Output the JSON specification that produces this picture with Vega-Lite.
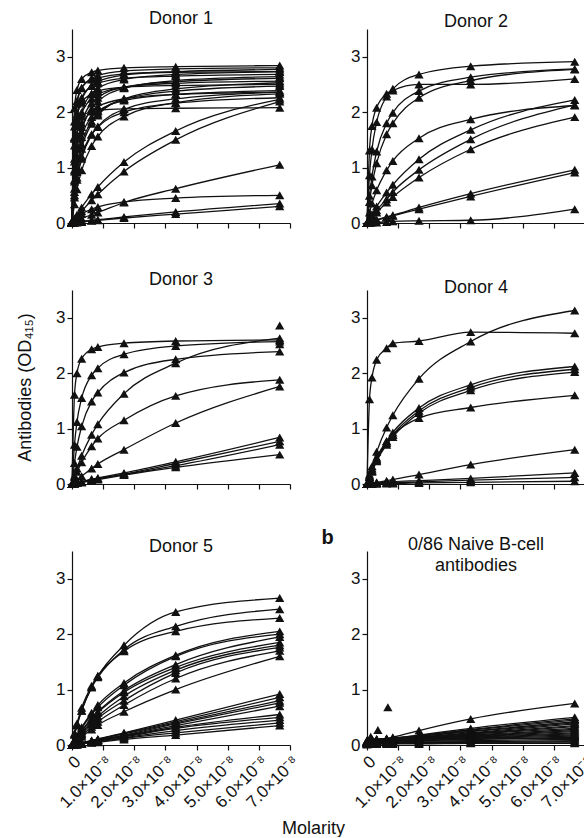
{"$schema":"https://vega.github.io/schema/vega-lite/v6.json",
"padding":{"left":16,"top":10,"right":0,"bottom":0},
"background":"white",
"data":{"values":[
{"g":1,"s":1,"x":0,"y":0.02},{"g":1,"s":1,"x":0.08,"y":2.07},{"g":1,"s":1,"x":0.16,"y":2.40},{"g":1,"s":1,"x":0.31,"y":2.60},{"g":1,"s":1,"x":0.63,"y":2.72},{"g":1,"s":1,"x":0.83,"y":2.75},{"g":1,"s":1,"x":1.67,"y":2.80},{"g":1,"s":1,"x":3.33,"y":2.82},{"g":1,"s":1,"x":6.67,"y":2.84},
{"g":1,"s":2,"x":0,"y":0.01},{"g":1,"s":2,"x":0.08,"y":1.74},{"g":1,"s":2,"x":0.16,"y":2.15},{"g":1,"s":2,"x":0.31,"y":2.43},{"g":1,"s":2,"x":0.63,"y":2.61},{"g":1,"s":2,"x":0.83,"y":2.66},{"g":1,"s":2,"x":1.67,"y":2.74},{"g":1,"s":2,"x":3.33,"y":2.78},{"g":1,"s":2,"x":6.67,"y":2.80},
{"g":1,"s":3,"x":0,"y":0.02},{"g":1,"s":3,"x":0.08,"y":1.40},{"g":1,"s":3,"x":0.16,"y":1.87},{"g":1,"s":3,"x":0.31,"y":2.22},{"g":1,"s":3,"x":0.63,"y":2.48},{"g":1,"s":3,"x":0.83,"y":2.55},{"g":1,"s":3,"x":1.67,"y":2.67},{"g":1,"s":3,"x":3.33,"y":2.73},{"g":1,"s":3,"x":6.67,"y":2.77},
{"g":1,"s":4,"x":0,"y":0.01},{"g":1,"s":4,"x":0.08,"y":1.11},{"g":1,"s":4,"x":0.16,"y":1.59},{"g":1,"s":4,"x":0.31,"y":2.00},{"g":1,"s":4,"x":0.63,"y":2.33},{"g":1,"s":4,"x":0.83,"y":2.43},{"g":1,"s":4,"x":1.67,"y":2.59},{"g":1,"s":4,"x":3.33,"y":2.68},{"g":1,"s":4,"x":6.67,"y":2.73},
{"g":1,"s":5,"x":0,"y":0.03},{"g":1,"s":5,"x":0.08,"y":1.83},{"g":1,"s":5,"x":0.16,"y":2.20},{"g":1,"s":5,"x":0.31,"y":2.44},{"g":1,"s":5,"x":0.63,"y":2.59},{"g":1,"s":5,"x":0.83,"y":2.62},{"g":1,"s":5,"x":1.67,"y":2.69},{"g":1,"s":5,"x":3.33,"y":2.72},{"g":1,"s":5,"x":6.67,"y":2.73},
{"g":1,"s":6,"x":0,"y":0.02},{"g":1,"s":6,"x":0.08,"y":0.78},{"g":1,"s":6,"x":0.16,"y":1.21},{"g":1,"s":6,"x":0.31,"y":1.65},{"g":1,"s":6,"x":0.63,"y":2.06},{"g":1,"s":6,"x":0.83,"y":2.19},{"g":1,"s":6,"x":1.67,"y":2.43},{"g":1,"s":6,"x":3.33,"y":2.57},{"g":1,"s":6,"x":6.67,"y":2.64},
{"g":1,"s":7,"x":0,"y":0.01},{"g":1,"s":7,"x":0.08,"y":1.54},{"g":1,"s":7,"x":0.16,"y":1.96},{"g":1,"s":7,"x":0.31,"y":2.26},{"g":1,"s":7,"x":0.63,"y":2.47},{"g":1,"s":7,"x":0.83,"y":2.52},{"g":1,"s":7,"x":1.67,"y":2.61},{"g":1,"s":7,"x":3.33,"y":2.65},{"g":1,"s":7,"x":6.67,"y":2.68},
{"g":1,"s":8,"x":0,"y":0.02},{"g":1,"s":8,"x":0.08,"y":0.93},{"g":1,"s":8,"x":0.16,"y":1.38},{"g":1,"s":8,"x":0.31,"y":1.80},{"g":1,"s":8,"x":0.63,"y":2.16},{"g":1,"s":8,"x":0.83,"y":2.26},{"g":1,"s":8,"x":1.67,"y":2.45},{"g":1,"s":8,"x":3.33,"y":2.55},{"g":1,"s":8,"x":6.67,"y":2.61},
{"g":1,"s":9,"x":0,"y":0.01},{"g":1,"s":9,"x":0.08,"y":0.56},{"g":1,"s":9,"x":0.16,"y":0.92},{"g":1,"s":9,"x":0.31,"y":1.34},{"g":1,"s":9,"x":0.63,"y":1.79},{"g":1,"s":9,"x":0.83,"y":1.94},{"g":1,"s":9,"x":1.67,"y":2.24},{"g":1,"s":9,"x":3.33,"y":2.42},{"g":1,"s":9,"x":6.67,"y":2.53},
{"g":1,"s":10,"x":0,"y":0.02},{"g":1,"s":10,"x":0.08,"y":1.16},{"g":1,"s":10,"x":0.16,"y":1.60},{"g":1,"s":10,"x":0.31,"y":1.97},{"g":1,"s":10,"x":0.63,"y":2.24},{"g":1,"s":10,"x":0.83,"y":2.32},{"g":1,"s":10,"x":1.67,"y":2.45},{"g":1,"s":10,"x":3.33,"y":2.52},{"g":1,"s":10,"x":6.67,"y":2.56},
{"g":1,"s":11,"x":0,"y":0.01},{"g":1,"s":11,"x":0.08,"y":0.62},{"g":1,"s":11,"x":0.16,"y":1.00},{"g":1,"s":11,"x":0.31,"y":1.42},{"g":1,"s":11,"x":0.63,"y":1.83},{"g":1,"s":11,"x":0.83,"y":1.97},{"g":1,"s":11,"x":1.67,"y":2.23},{"g":1,"s":11,"x":3.33,"y":2.38},{"g":1,"s":11,"x":6.67,"y":2.47},
{"g":1,"s":12,"x":0,"y":0.03},{"g":1,"s":12,"x":0.08,"y":1.55},{"g":1,"s":12,"x":0.16,"y":1.92},{"g":1,"s":12,"x":0.31,"y":2.17},{"g":1,"s":12,"x":0.63,"y":2.33},{"g":1,"s":12,"x":0.83,"y":2.38},{"g":1,"s":12,"x":1.67,"y":2.45},{"g":1,"s":12,"x":3.33,"y":2.48},{"g":1,"s":12,"x":6.67,"y":2.50},
{"g":1,"s":13,"x":0,"y":0.01},{"g":1,"s":13,"x":0.08,"y":0.46},{"g":1,"s":13,"x":0.16,"y":0.78},{"g":1,"s":13,"x":0.31,"y":1.16},{"g":1,"s":13,"x":0.63,"y":1.59},{"g":1,"s":13,"x":0.83,"y":1.74},{"g":1,"s":13,"x":1.67,"y":2.05},{"g":1,"s":13,"x":3.33,"y":2.24},{"g":1,"s":13,"x":6.67,"y":2.36},
{"g":1,"s":14,"x":0,"y":0.02},{"g":1,"s":14,"x":0.08,"y":0.75},{"g":1,"s":14,"x":0.16,"y":1.15},{"g":1,"s":14,"x":0.31,"y":1.55},{"g":1,"s":14,"x":0.63,"y":1.91},{"g":1,"s":14,"x":0.83,"y":2.01},{"g":1,"s":14,"x":1.67,"y":2.21},{"g":1,"s":14,"x":3.33,"y":2.32},{"g":1,"s":14,"x":6.67,"y":2.39},
{"g":1,"s":15,"x":0,"y":0.01},{"g":1,"s":15,"x":0.08,"y":0.96},{"g":1,"s":15,"x":0.16,"y":1.37},{"g":1,"s":15,"x":0.31,"y":1.73},{"g":1,"s":15,"x":0.63,"y":2.02},{"g":1,"s":15,"x":0.83,"y":2.10},{"g":1,"s":15,"x":1.67,"y":2.24},{"g":1,"s":15,"x":3.33,"y":2.32},{"g":1,"s":15,"x":6.67,"y":2.36},
{"g":1,"s":16,"x":0,"y":0.02},{"g":1,"s":16,"x":0.08,"y":0.50},{"g":1,"s":16,"x":0.16,"y":0.82},{"g":1,"s":16,"x":0.31,"y":1.20},{"g":1,"s":16,"x":0.63,"y":1.60},{"g":1,"s":16,"x":0.83,"y":1.73},{"g":1,"s":16,"x":1.67,"y":2.00},{"g":1,"s":16,"x":3.33,"y":2.16},{"g":1,"s":16,"x":6.67,"y":2.26},
{"g":1,"s":17,"x":0,"y":0.01},{"g":1,"s":17,"x":0.08,"y":0.34},{"g":1,"s":17,"x":0.16,"y":0.61},{"g":1,"s":17,"x":0.31,"y":0.95},{"g":1,"s":17,"x":0.63,"y":1.39},{"g":1,"s":17,"x":0.83,"y":1.56},{"g":1,"s":17,"x":1.67,"y":1.92},{"g":1,"s":17,"x":3.33,"y":2.17},{"g":1,"s":17,"x":6.67,"y":2.33},
{"g":1,"s":18,"x":0,"y":0.02},{"g":1,"s":18,"x":0.08,"y":1.52},{"g":1,"s":18,"x":0.16,"y":1.77},{"g":1,"s":18,"x":0.31,"y":1.92},{"g":1,"s":18,"x":0.63,"y":2.01},{"g":1,"s":18,"x":0.83,"y":2.03},{"g":1,"s":18,"x":1.67,"y":2.06},{"g":1,"s":18,"x":3.33,"y":2.07},{"g":1,"s":18,"x":6.67,"y":2.08},
{"g":1,"s":19,"x":0,"y":0.01},{"g":1,"s":19,"x":0.08,"y":0.08},{"g":1,"s":19,"x":0.16,"y":0.15},{"g":1,"s":19,"x":0.31,"y":0.28},{"g":1,"s":19,"x":0.63,"y":0.52},{"g":1,"s":19,"x":0.83,"y":0.65},{"g":1,"s":19,"x":1.67,"y":1.10},{"g":1,"s":19,"x":3.33,"y":1.66},{"g":1,"s":19,"x":6.67,"y":2.23},
{"g":1,"s":20,"x":0,"y":0.01},{"g":1,"s":20,"x":0.08,"y":0.06},{"g":1,"s":20,"x":0.16,"y":0.11},{"g":1,"s":20,"x":0.31,"y":0.21},{"g":1,"s":20,"x":0.63,"y":0.41},{"g":1,"s":20,"x":0.83,"y":0.52},{"g":1,"s":20,"x":1.67,"y":0.93},{"g":1,"s":20,"x":3.33,"y":1.50},{"g":1,"s":20,"x":6.67,"y":2.19},
{"g":1,"s":21,"x":0,"y":0.01},{"g":1,"s":21,"x":0.08,"y":0.02},{"g":1,"s":21,"x":0.16,"y":0.04},{"g":1,"s":21,"x":0.31,"y":0.08},{"g":1,"s":21,"x":0.63,"y":0.15},{"g":1,"s":21,"x":0.83,"y":0.19},{"g":1,"s":21,"x":1.67,"y":0.37},{"g":1,"s":21,"x":3.33,"y":0.62},{"g":1,"s":21,"x":6.67,"y":1.05},
{"g":1,"s":22,"x":0,"y":0.02},{"g":1,"s":22,"x":0.08,"y":0.05},{"g":1,"s":22,"x":0.16,"y":0.09},{"g":1,"s":22,"x":0.31,"y":0.16},{"g":1,"s":22,"x":0.63,"y":0.25},{"g":1,"s":22,"x":0.83,"y":0.29},{"g":1,"s":22,"x":1.67,"y":0.38},{"g":1,"s":22,"x":3.33,"y":0.45},{"g":1,"s":22,"x":6.67,"y":0.50},
{"g":1,"s":23,"x":0,"y":0.01},{"g":1,"s":23,"x":0.08,"y":0.01},{"g":1,"s":23,"x":0.16,"y":0.02},{"g":1,"s":23,"x":0.31,"y":0.03},{"g":1,"s":23,"x":0.63,"y":0.05},{"g":1,"s":23,"x":0.83,"y":0.06},{"g":1,"s":23,"x":1.67,"y":0.11},{"g":1,"s":23,"x":3.33,"y":0.20},{"g":1,"s":23,"x":6.67,"y":0.35},
{"g":1,"s":24,"x":0,"y":0},{"g":1,"s":24,"x":0.08,"y":0.01},{"g":1,"s":24,"x":0.16,"y":0.01},{"g":1,"s":24,"x":0.31,"y":0.02},{"g":1,"s":24,"x":0.63,"y":0.04},{"g":1,"s":24,"x":0.83,"y":0.05},{"g":1,"s":24,"x":1.67,"y":0.09},{"g":1,"s":24,"x":3.33,"y":0.16},{"g":1,"s":24,"x":6.67,"y":0.30},

{"g":2,"s":1,"x":0,"y":0},{"g":2,"s":1,"x":0.08,"y":0.86},{"g":2,"s":1,"x":0.16,"y":1.33},{"g":2,"s":1,"x":0.31,"y":1.82},{"g":2,"s":1,"x":0.63,"y":2.28},{"g":2,"s":1,"x":0.83,"y":2.42},{"g":2,"s":1,"x":1.67,"y":2.68},{"g":2,"s":1,"x":3.33,"y":2.83},{"g":2,"s":1,"x":6.67,"y":2.91},
{"g":2,"s":2,"x":0,"y":0},{"g":2,"s":2,"x":0.08,"y":0.49},{"g":2,"s":2,"x":0.16,"y":0.84},{"g":2,"s":2,"x":0.31,"y":1.29},{"g":2,"s":2,"x":0.63,"y":1.80},{"g":2,"s":2,"x":0.83,"y":1.99},{"g":2,"s":2,"x":1.67,"y":2.38},{"g":2,"s":2,"x":3.33,"y":2.63},{"g":2,"s":2,"x":6.67,"y":2.78},
{"g":2,"s":3,"x":0,"y":0},{"g":2,"s":3,"x":0.08,"y":0.38},{"g":2,"s":3,"x":0.16,"y":0.68},{"g":2,"s":3,"x":0.31,"y":1.08},{"g":2,"s":3,"x":0.63,"y":1.60},{"g":2,"s":3,"x":0.83,"y":1.80},{"g":2,"s":3,"x":1.67,"y":2.26},{"g":2,"s":3,"x":3.33,"y":2.57},{"g":2,"s":3,"x":6.67,"y":2.77},
{"g":2,"s":4,"x":0,"y":0},{"g":2,"s":4,"x":0.08,"y":1.31},{"g":2,"s":4,"x":0.16,"y":1.75},{"g":2,"s":4,"x":0.31,"y":2.08},{"g":2,"s":4,"x":0.63,"y":2.33},{"g":2,"s":4,"x":0.83,"y":2.39},{"g":2,"s":4,"x":1.67,"y":2.50},{"g":2,"s":4,"x":3.33,"y":2.50},{"g":2,"s":4,"x":6.67,"y":2.60},
{"g":2,"s":5,"x":0,"y":0},{"g":2,"s":5,"x":0.08,"y":0.19},{"g":2,"s":5,"x":0.16,"y":0.35},{"g":2,"s":5,"x":0.31,"y":0.59},{"g":2,"s":5,"x":0.63,"y":0.95},{"g":2,"s":5,"x":0.83,"y":1.12},{"g":2,"s":5,"x":1.67,"y":1.53},{"g":2,"s":5,"x":3.33,"y":1.87},{"g":2,"s":5,"x":6.67,"y":2.12},
{"g":2,"s":6,"x":0,"y":0},{"g":2,"s":6,"x":0.08,"y":0.08},{"g":2,"s":6,"x":0.16,"y":0.16},{"g":2,"s":6,"x":0.31,"y":0.30},{"g":2,"s":6,"x":0.63,"y":0.55},{"g":2,"s":6,"x":0.83,"y":0.69},{"g":2,"s":6,"x":1.67,"y":1.15},{"g":2,"s":6,"x":3.33,"y":1.68},{"g":2,"s":6,"x":6.67,"y":2.22},
{"g":2,"s":7,"x":0,"y":0},{"g":2,"s":7,"x":0.08,"y":0.06},{"g":2,"s":7,"x":0.16,"y":0.12},{"g":2,"s":7,"x":0.31,"y":0.23},{"g":2,"s":7,"x":0.63,"y":0.43},{"g":2,"s":7,"x":0.83,"y":0.56},{"g":2,"s":7,"x":1.67,"y":0.96},{"g":2,"s":7,"x":3.33,"y":1.51},{"g":2,"s":7,"x":6.67,"y":2.13},
{"g":2,"s":8,"x":0,"y":0},{"g":2,"s":8,"x":0.08,"y":0.05},{"g":2,"s":8,"x":0.16,"y":0.10},{"g":2,"s":8,"x":0.31,"y":0.19},{"g":2,"s":8,"x":0.63,"y":0.37},{"g":2,"s":8,"x":0.83,"y":0.47},{"g":2,"s":8,"x":1.67,"y":0.82},{"g":2,"s":8,"x":3.33,"y":1.33},{"g":2,"s":8,"x":6.67,"y":1.91},
{"g":2,"s":9,"x":0,"y":0},{"g":2,"s":9,"x":0.08,"y":0.01},{"g":2,"s":9,"x":0.16,"y":0.03},{"g":2,"s":9,"x":0.31,"y":0.06},{"g":2,"s":9,"x":0.63,"y":0.11},{"g":2,"s":9,"x":0.83,"y":0.14},{"g":2,"s":9,"x":1.67,"y":0.28},{"g":2,"s":9,"x":3.33,"y":0.53},{"g":2,"s":9,"x":6.67,"y":0.96},
{"g":2,"s":10,"x":0,"y":0},{"g":2,"s":10,"x":0.08,"y":0.01},{"g":2,"s":10,"x":0.16,"y":0.03},{"g":2,"s":10,"x":0.31,"y":0.05},{"g":2,"s":10,"x":0.63,"y":0.10},{"g":2,"s":10,"x":0.83,"y":0.13},{"g":2,"s":10,"x":1.67,"y":0.25},{"g":2,"s":10,"x":3.33,"y":0.48},{"g":2,"s":10,"x":6.67,"y":0.91},
{"g":2,"s":11,"x":0,"y":0},{"g":2,"s":11,"x":0.08,"y":0},{"g":2,"s":11,"x":0.16,"y":0.01},{"g":2,"s":11,"x":0.31,"y":0.01},{"g":2,"s":11,"x":0.63,"y":0.02},{"g":2,"s":11,"x":0.83,"y":0.03},{"g":2,"s":11,"x":1.67,"y":0.04},{"g":2,"s":11,"x":3.33,"y":0.05},{"g":2,"s":11,"x":6.67,"y":0.25},

{"g":3,"s":1,"x":0,"y":0},{"g":3,"s":1,"x":0.08,"y":1.61},{"g":3,"s":1,"x":0.16,"y":2.00},{"g":3,"s":1,"x":0.31,"y":2.26},{"g":3,"s":1,"x":0.63,"y":2.43},{"g":3,"s":1,"x":0.83,"y":2.47},{"g":3,"s":1,"x":1.67,"y":2.54},{"g":3,"s":1,"x":3.33,"y":2.58},{"g":3,"s":1,"x":6.67,"y":2.60},
{"g":3,"s":2,"x":0,"y":0},{"g":3,"s":2,"x":0.08,"y":0.71},{"g":3,"s":2,"x":0.16,"y":1.12},{"g":3,"s":2,"x":0.31,"y":1.55},{"g":3,"s":2,"x":0.63,"y":1.96},{"g":3,"s":2,"x":0.83,"y":2.09},{"g":3,"s":2,"x":1.67,"y":2.34},{"g":3,"s":2,"x":3.33,"y":2.49},{"g":3,"s":2,"x":6.67,"y":2.57},
{"g":3,"s":3,"x":0,"y":0},{"g":3,"s":3,"x":0.08,"y":0.38},{"g":3,"s":3,"x":0.16,"y":0.67},{"g":3,"s":3,"x":0.31,"y":1.04},{"g":3,"s":3,"x":0.63,"y":1.49},{"g":3,"s":3,"x":0.83,"y":1.65},{"g":3,"s":3,"x":1.67,"y":2.01},{"g":3,"s":3,"x":3.33,"y":2.25},{"g":3,"s":3,"x":6.67,"y":2.39},
{"g":3,"s":4,"x":0,"y":0},{"g":3,"s":4,"x":0.08,"y":0.15},{"g":3,"s":4,"x":0.16,"y":0.28},{"g":3,"s":4,"x":0.31,"y":0.51},{"g":3,"s":4,"x":0.63,"y":0.89},{"g":3,"s":4,"x":0.83,"y":1.08},{"g":3,"s":4,"x":1.67,"y":1.63},{"g":3,"s":4,"x":3.33,"y":2.18},{"g":3,"s":4,"x":6.67,"y":2.63},
{"g":3,"s":5,"x":0,"y":0},{"g":3,"s":5,"x":0.08,"y":0.12},{"g":3,"s":5,"x":0.16,"y":0.22},{"g":3,"s":5,"x":0.31,"y":0.39},{"g":3,"s":5,"x":0.63,"y":0.68},{"g":3,"s":5,"x":0.83,"y":0.82},{"g":3,"s":5,"x":1.67,"y":1.15},{"g":3,"s":5,"x":3.33,"y":1.59},{"g":3,"s":5,"x":6.67,"y":1.88},
{"g":3,"s":6,"x":0,"y":0},{"g":3,"s":6,"x":0.08,"y":0.04},{"g":3,"s":6,"x":0.16,"y":0.07},{"g":3,"s":6,"x":0.31,"y":0.14},{"g":3,"s":6,"x":0.63,"y":0.28},{"g":3,"s":6,"x":0.83,"y":0.36},{"g":3,"s":6,"x":1.67,"y":0.62},{"g":3,"s":6,"x":3.33,"y":1.10},{"g":3,"s":6,"x":6.67,"y":1.76},
{"g":3,"s":7,"x":0,"y":0},{"g":3,"s":7,"x":0.08,"y":0.01},{"g":3,"s":7,"x":0.16,"y":0.02},{"g":3,"s":7,"x":0.31,"y":0.04},{"g":3,"s":7,"x":0.63,"y":0.09},{"g":3,"s":7,"x":0.83,"y":0.11},{"g":3,"s":7,"x":1.67,"y":0.20},{"g":3,"s":7,"x":3.33,"y":0.40},{"g":3,"s":7,"x":6.67,"y":0.84},
{"g":3,"s":8,"x":0,"y":0},{"g":3,"s":8,"x":0.08,"y":0.01},{"g":3,"s":8,"x":0.16,"y":0.02},{"g":3,"s":8,"x":0.31,"y":0.04},{"g":3,"s":8,"x":0.63,"y":0.08},{"g":3,"s":8,"x":0.83,"y":0.10},{"g":3,"s":8,"x":1.67,"y":0.18},{"g":3,"s":8,"x":3.33,"y":0.37},{"g":3,"s":8,"x":6.67,"y":0.77},
{"g":3,"s":9,"x":0,"y":0},{"g":3,"s":9,"x":0.08,"y":0.01},{"g":3,"s":9,"x":0.16,"y":0.02},{"g":3,"s":9,"x":0.31,"y":0.03},{"g":3,"s":9,"x":0.63,"y":0.07},{"g":3,"s":9,"x":0.83,"y":0.09},{"g":3,"s":9,"x":1.67,"y":0.17},{"g":3,"s":9,"x":3.33,"y":0.33},{"g":3,"s":9,"x":6.67,"y":0.71},
{"g":3,"s":10,"x":0,"y":0},{"g":3,"s":10,"x":0.08,"y":0.01},{"g":3,"s":10,"x":0.16,"y":0.02},{"g":3,"s":10,"x":0.31,"y":0.03},{"g":3,"s":10,"x":0.63,"y":0.06},{"g":3,"s":10,"x":0.83,"y":0.08},{"g":3,"s":10,"x":1.67,"y":0.16},{"g":3,"s":10,"x":3.33,"y":0.30},{"g":3,"s":10,"x":6.67,"y":0.53},
{"g":3,"s":0,"x":6.67,"y":2.86},{"g":3,"s":0,"x":6.67,"y":2.52},

{"g":4,"s":1,"x":0,"y":0},{"g":4,"s":1,"x":0.08,"y":1.53},{"g":4,"s":1,"x":0.16,"y":1.92},{"g":4,"s":1,"x":0.31,"y":2.24},{"g":4,"s":1,"x":0.63,"y":2.45},{"g":4,"s":1,"x":0.83,"y":2.54},{"g":4,"s":1,"x":1.67,"y":2.58},{"g":4,"s":1,"x":3.33,"y":2.74},{"g":4,"s":1,"x":6.67,"y":2.72},
{"g":4,"s":2,"x":0,"y":0},{"g":4,"s":2,"x":0.08,"y":0.17},{"g":4,"s":2,"x":0.16,"y":0.32},{"g":4,"s":2,"x":0.31,"y":0.58},{"g":4,"s":2,"x":0.63,"y":1.02},{"g":4,"s":2,"x":0.83,"y":1.24},{"g":4,"s":2,"x":1.67,"y":1.90},{"g":4,"s":2,"x":3.33,"y":2.57},{"g":4,"s":2,"x":6.67,"y":3.13},
{"g":4,"s":3,"x":0,"y":0},{"g":4,"s":3,"x":0.08,"y":0.13},{"g":4,"s":3,"x":0.16,"y":0.25},{"g":4,"s":3,"x":0.31,"y":0.45},{"g":4,"s":3,"x":0.63,"y":0.77},{"g":4,"s":3,"x":0.83,"y":0.93},{"g":4,"s":3,"x":1.67,"y":1.37},{"g":4,"s":3,"x":3.33,"y":1.79},{"g":4,"s":3,"x":6.67,"y":2.12},
{"g":4,"s":4,"x":0,"y":0},{"g":4,"s":4,"x":0.08,"y":0.12},{"g":4,"s":4,"x":0.16,"y":0.24},{"g":4,"s":4,"x":0.31,"y":0.43},{"g":4,"s":4,"x":0.63,"y":0.74},{"g":4,"s":4,"x":0.83,"y":0.89},{"g":4,"s":4,"x":1.67,"y":1.32},{"g":4,"s":4,"x":3.33,"y":1.74},{"g":4,"s":4,"x":6.67,"y":2.07},
{"g":4,"s":5,"x":0,"y":0},{"g":4,"s":5,"x":0.08,"y":0.12},{"g":4,"s":5,"x":0.16,"y":0.22},{"g":4,"s":5,"x":0.31,"y":0.41},{"g":4,"s":5,"x":0.63,"y":0.71},{"g":4,"s":5,"x":0.83,"y":0.85},{"g":4,"s":5,"x":1.67,"y":1.28},{"g":4,"s":5,"x":3.33,"y":1.69},{"g":4,"s":5,"x":6.67,"y":2.02},
{"g":4,"s":6,"x":0,"y":0},{"g":4,"s":6,"x":0.08,"y":0.15},{"g":4,"s":6,"x":0.16,"y":0.28},{"g":4,"s":6,"x":0.31,"y":0.48},{"g":4,"s":6,"x":0.63,"y":0.77},{"g":4,"s":6,"x":0.83,"y":0.89},{"g":4,"s":6,"x":1.67,"y":1.19},{"g":4,"s":6,"x":3.33,"y":1.38},{"g":4,"s":6,"x":6.67,"y":1.60},
{"g":4,"s":7,"x":0,"y":0},{"g":4,"s":7,"x":0.08,"y":0.01},{"g":4,"s":7,"x":0.16,"y":0.02},{"g":4,"s":7,"x":0.31,"y":0.03},{"g":4,"s":7,"x":0.63,"y":0.06},{"g":4,"s":7,"x":0.83,"y":0.08},{"g":4,"s":7,"x":1.67,"y":0.17},{"g":4,"s":7,"x":3.33,"y":0.35},{"g":4,"s":7,"x":6.67,"y":0.62},
{"g":4,"s":8,"x":0,"y":0},{"g":4,"s":8,"x":0.08,"y":0},{"g":4,"s":8,"x":0.16,"y":0.01},{"g":4,"s":8,"x":0.31,"y":0.02},{"g":4,"s":8,"x":0.63,"y":0.03},{"g":4,"s":8,"x":0.83,"y":0.04},{"g":4,"s":8,"x":1.67,"y":0.06},{"g":4,"s":8,"x":3.33,"y":0.10},{"g":4,"s":8,"x":6.67,"y":0.20},
{"g":4,"s":9,"x":0,"y":0},{"g":4,"s":9,"x":0.08,"y":0},{"g":4,"s":9,"x":0.16,"y":0.01},{"g":4,"s":9,"x":0.31,"y":0.01},{"g":4,"s":9,"x":0.63,"y":0.02},{"g":4,"s":9,"x":0.83,"y":0.02},{"g":4,"s":9,"x":1.67,"y":0.04},{"g":4,"s":9,"x":3.33,"y":0.07},{"g":4,"s":9,"x":6.67,"y":0.12},
{"g":4,"s":10,"x":0,"y":0},{"g":4,"s":10,"x":0.08,"y":0},{"g":4,"s":10,"x":0.16,"y":0},{"g":4,"s":10,"x":0.31,"y":0.01},{"g":4,"s":10,"x":0.63,"y":0.01},{"g":4,"s":10,"x":0.83,"y":0.01},{"g":4,"s":10,"x":1.67,"y":0.02},{"g":4,"s":10,"x":3.33,"y":0.03},{"g":4,"s":10,"x":6.67,"y":0.05},

{"g":5,"s":1,"x":0,"y":0},{"g":5,"s":1,"x":0.08,"y":0.19},{"g":5,"s":1,"x":0.16,"y":0.35},{"g":5,"s":1,"x":0.31,"y":0.62},{"g":5,"s":1,"x":0.63,"y":1.04},{"g":5,"s":1,"x":0.83,"y":1.24},{"g":5,"s":1,"x":1.67,"y":1.80},{"g":5,"s":1,"x":3.33,"y":2.40},{"g":5,"s":1,"x":6.67,"y":2.65},
{"g":5,"s":2,"x":0,"y":0},{"g":5,"s":2,"x":0.08,"y":0.19},{"g":5,"s":2,"x":0.16,"y":0.36},{"g":5,"s":2,"x":0.31,"y":0.62},{"g":5,"s":2,"x":0.63,"y":1.04},{"g":5,"s":2,"x":0.83,"y":1.22},{"g":5,"s":2,"x":1.67,"y":1.72},{"g":5,"s":2,"x":3.33,"y":2.14},{"g":5,"s":2,"x":6.67,"y":2.45},
{"g":5,"s":3,"x":0,"y":0},{"g":5,"s":3,"x":0.08,"y":0.21},{"g":5,"s":3,"x":0.16,"y":0.39},{"g":5,"s":3,"x":0.31,"y":0.67},{"g":5,"s":3,"x":0.63,"y":1.07},{"g":5,"s":3,"x":0.83,"y":1.25},{"g":5,"s":3,"x":1.67,"y":1.69},{"g":5,"s":3,"x":3.33,"y":2.05},{"g":5,"s":3,"x":6.67,"y":2.29},
{"g":5,"s":4,"x":0,"y":0},{"g":5,"s":4,"x":0.08,"y":0.09},{"g":5,"s":4,"x":0.16,"y":0.17},{"g":5,"s":4,"x":0.31,"y":0.32},{"g":5,"s":4,"x":0.63,"y":0.58},{"g":5,"s":4,"x":0.83,"y":0.72},{"g":5,"s":4,"x":1.67,"y":1.12},{"g":5,"s":4,"x":3.33,"y":1.62},{"g":5,"s":4,"x":6.67,"y":2.05},
{"g":5,"s":5,"x":0,"y":0},{"g":5,"s":5,"x":0.08,"y":0.08},{"g":5,"s":5,"x":0.16,"y":0.16},{"g":5,"s":5,"x":0.31,"y":0.30},{"g":5,"s":5,"x":0.63,"y":0.55},{"g":5,"s":5,"x":0.83,"y":0.68},{"g":5,"s":5,"x":1.67,"y":1.08},{"g":5,"s":5,"x":3.33,"y":1.60},{"g":5,"s":5,"x":6.67,"y":2.00},
{"g":5,"s":6,"x":0,"y":0},{"g":5,"s":6,"x":0.08,"y":0.07},{"g":5,"s":6,"x":0.16,"y":0.14},{"g":5,"s":6,"x":0.31,"y":0.26},{"g":5,"s":6,"x":0.63,"y":0.48},{"g":5,"s":6,"x":0.83,"y":0.60},{"g":5,"s":6,"x":1.67,"y":0.98},{"g":5,"s":6,"x":3.33,"y":1.45},{"g":5,"s":6,"x":6.67,"y":1.95},
{"g":5,"s":7,"x":0,"y":0},{"g":5,"s":7,"x":0.08,"y":0.07},{"g":5,"s":7,"x":0.16,"y":0.13},{"g":5,"s":7,"x":0.31,"y":0.25},{"g":5,"s":7,"x":0.63,"y":0.46},{"g":5,"s":7,"x":0.83,"y":0.58},{"g":5,"s":7,"x":1.67,"y":0.95},{"g":5,"s":7,"x":3.33,"y":1.40},{"g":5,"s":7,"x":6.67,"y":1.85},
{"g":5,"s":8,"x":0,"y":0},{"g":5,"s":8,"x":0.08,"y":0.06},{"g":5,"s":8,"x":0.16,"y":0.12},{"g":5,"s":8,"x":0.31,"y":0.22},{"g":5,"s":8,"x":0.63,"y":0.42},{"g":5,"s":8,"x":0.83,"y":0.52},{"g":5,"s":8,"x":1.67,"y":0.88},{"g":5,"s":8,"x":3.33,"y":1.35},{"g":5,"s":8,"x":6.67,"y":1.80},
{"g":5,"s":9,"x":0,"y":0},{"g":5,"s":9,"x":0.08,"y":0.05},{"g":5,"s":9,"x":0.16,"y":0.11},{"g":5,"s":9,"x":0.31,"y":0.20},{"g":5,"s":9,"x":0.63,"y":0.38},{"g":5,"s":9,"x":0.83,"y":0.48},{"g":5,"s":9,"x":1.67,"y":0.80},{"g":5,"s":9,"x":3.33,"y":1.30},{"g":5,"s":9,"x":6.67,"y":1.76},
{"g":5,"s":10,"x":0,"y":0},{"g":5,"s":10,"x":0.08,"y":0.05},{"g":5,"s":10,"x":0.16,"y":0.09},{"g":5,"s":10,"x":0.31,"y":0.17},{"g":5,"s":10,"x":0.63,"y":0.33},{"g":5,"s":10,"x":0.83,"y":0.42},{"g":5,"s":10,"x":1.67,"y":0.72},{"g":5,"s":10,"x":3.33,"y":1.20},{"g":5,"s":10,"x":6.67,"y":1.70},
{"g":5,"s":11,"x":0,"y":0},{"g":5,"s":11,"x":0.08,"y":0.04},{"g":5,"s":11,"x":0.16,"y":0.08},{"g":5,"s":11,"x":0.31,"y":0.15},{"g":5,"s":11,"x":0.63,"y":0.28},{"g":5,"s":11,"x":0.83,"y":0.36},{"g":5,"s":11,"x":1.67,"y":0.60},{"g":5,"s":11,"x":3.33,"y":1.00},{"g":5,"s":11,"x":6.67,"y":1.60},
{"g":5,"s":12,"x":0,"y":0},{"g":5,"s":12,"x":0.08,"y":0.01},{"g":5,"s":12,"x":0.16,"y":0.02},{"g":5,"s":12,"x":0.31,"y":0.04},{"g":5,"s":12,"x":0.63,"y":0.08},{"g":5,"s":12,"x":0.83,"y":0.11},{"g":5,"s":12,"x":1.67,"y":0.22},{"g":5,"s":12,"x":3.33,"y":0.45},{"g":5,"s":12,"x":6.67,"y":0.92},
{"g":5,"s":13,"x":0,"y":0},{"g":5,"s":13,"x":0.08,"y":0.01},{"g":5,"s":13,"x":0.16,"y":0.02},{"g":5,"s":13,"x":0.31,"y":0.04},{"g":5,"s":13,"x":0.63,"y":0.08},{"g":5,"s":13,"x":0.83,"y":0.10},{"g":5,"s":13,"x":1.67,"y":0.21},{"g":5,"s":13,"x":3.33,"y":0.42},{"g":5,"s":13,"x":6.67,"y":0.86},
{"g":5,"s":14,"x":0,"y":0},{"g":5,"s":14,"x":0.08,"y":0.01},{"g":5,"s":14,"x":0.16,"y":0.02},{"g":5,"s":14,"x":0.31,"y":0.04},{"g":5,"s":14,"x":0.63,"y":0.07},{"g":5,"s":14,"x":0.83,"y":0.10},{"g":5,"s":14,"x":1.67,"y":0.20},{"g":5,"s":14,"x":3.33,"y":0.40},{"g":5,"s":14,"x":6.67,"y":0.80},
{"g":5,"s":15,"x":0,"y":0},{"g":5,"s":15,"x":0.08,"y":0.01},{"g":5,"s":15,"x":0.16,"y":0.02},{"g":5,"s":15,"x":0.31,"y":0.03},{"g":5,"s":15,"x":0.63,"y":0.07},{"g":5,"s":15,"x":0.83,"y":0.09},{"g":5,"s":15,"x":1.67,"y":0.18},{"g":5,"s":15,"x":3.33,"y":0.38},{"g":5,"s":15,"x":6.67,"y":0.76},
{"g":5,"s":16,"x":0,"y":0},{"g":5,"s":16,"x":0.08,"y":0.01},{"g":5,"s":16,"x":0.16,"y":0.02},{"g":5,"s":16,"x":0.31,"y":0.03},{"g":5,"s":16,"x":0.63,"y":0.07},{"g":5,"s":16,"x":0.83,"y":0.09},{"g":5,"s":16,"x":1.67,"y":0.17},{"g":5,"s":16,"x":3.33,"y":0.35},{"g":5,"s":16,"x":6.67,"y":0.70},
{"g":5,"s":17,"x":0,"y":0},{"g":5,"s":17,"x":0.08,"y":0.01},{"g":5,"s":17,"x":0.16,"y":0.02},{"g":5,"s":17,"x":0.31,"y":0.03},{"g":5,"s":17,"x":0.63,"y":0.07},{"g":5,"s":17,"x":0.83,"y":0.09},{"g":5,"s":17,"x":1.67,"y":0.16},{"g":5,"s":17,"x":3.33,"y":0.32},{"g":5,"s":17,"x":6.67,"y":0.55},
{"g":5,"s":18,"x":0,"y":0},{"g":5,"s":18,"x":0.08,"y":0.01},{"g":5,"s":18,"x":0.16,"y":0.02},{"g":5,"s":18,"x":0.31,"y":0.03},{"g":5,"s":18,"x":0.63,"y":0.06},{"g":5,"s":18,"x":0.83,"y":0.08},{"g":5,"s":18,"x":1.67,"y":0.15},{"g":5,"s":18,"x":3.33,"y":0.30},{"g":5,"s":18,"x":6.67,"y":0.50},
{"g":5,"s":19,"x":0,"y":0},{"g":5,"s":19,"x":0.08,"y":0.01},{"g":5,"s":19,"x":0.16,"y":0.01},{"g":5,"s":19,"x":0.31,"y":0.03},{"g":5,"s":19,"x":0.63,"y":0.05},{"g":5,"s":19,"x":0.83,"y":0.07},{"g":5,"s":19,"x":1.67,"y":0.13},{"g":5,"s":19,"x":3.33,"y":0.26},{"g":5,"s":19,"x":6.67,"y":0.45},
{"g":5,"s":20,"x":0,"y":0},{"g":5,"s":20,"x":0.08,"y":0.01},{"g":5,"s":20,"x":0.16,"y":0.01},{"g":5,"s":20,"x":0.31,"y":0.02},{"g":5,"s":20,"x":0.63,"y":0.05},{"g":5,"s":20,"x":0.83,"y":0.06},{"g":5,"s":20,"x":1.67,"y":0.12},{"g":5,"s":20,"x":3.33,"y":0.22},{"g":5,"s":20,"x":6.67,"y":0.40},
{"g":5,"s":21,"x":0,"y":0},{"g":5,"s":21,"x":0.08,"y":0},{"g":5,"s":21,"x":0.16,"y":0.01},{"g":5,"s":21,"x":0.31,"y":0.02},{"g":5,"s":21,"x":0.63,"y":0.04},{"g":5,"s":21,"x":0.83,"y":0.05},{"g":5,"s":21,"x":1.67,"y":0.10},{"g":5,"s":21,"x":3.33,"y":0.18},{"g":5,"s":21,"x":6.67,"y":0.35},

{"g":6,"s":1,"x":0,"y":0.03},{"g":6,"s":1,"x":0.08,"y":0.06},{"g":6,"s":1,"x":0.16,"y":0.08},{"g":6,"s":1,"x":0.31,"y":0.10},{"g":6,"s":1,"x":0.63,"y":0.12},{"g":6,"s":1,"x":0.83,"y":0.14},{"g":6,"s":1,"x":1.67,"y":0.26},{"g":6,"s":1,"x":3.33,"y":0.47},{"g":6,"s":1,"x":6.67,"y":0.75},
{"g":6,"s":2,"x":0,"y":0.05},{"g":6,"s":2,"x":0.08,"y":0.07},{"g":6,"s":2,"x":0.16,"y":0.08},{"g":6,"s":2,"x":0.31,"y":0.09},{"g":6,"s":2,"x":0.63,"y":0.11},{"g":6,"s":2,"x":0.83,"y":0.12},{"g":6,"s":2,"x":1.67,"y":0.18},{"g":6,"s":2,"x":3.33,"y":0.30},{"g":6,"s":2,"x":6.67,"y":0.50},
{"g":6,"s":3,"x":0,"y":0.04},{"g":6,"s":3,"x":0.08,"y":0.06},{"g":6,"s":3,"x":0.16,"y":0.07},{"g":6,"s":3,"x":0.31,"y":0.08},{"g":6,"s":3,"x":0.63,"y":0.10},{"g":6,"s":3,"x":0.83,"y":0.11},{"g":6,"s":3,"x":1.67,"y":0.17},{"g":6,"s":3,"x":3.33,"y":0.28},{"g":6,"s":3,"x":6.67,"y":0.47},
{"g":6,"s":4,"x":0,"y":0.06},{"g":6,"s":4,"x":0.08,"y":0.08},{"g":6,"s":4,"x":0.16,"y":0.09},{"g":6,"s":4,"x":0.31,"y":0.10},{"g":6,"s":4,"x":0.63,"y":0.11},{"g":6,"s":4,"x":0.83,"y":0.12},{"g":6,"s":4,"x":1.67,"y":0.17},{"g":6,"s":4,"x":3.33,"y":0.27},{"g":6,"s":4,"x":6.67,"y":0.45},
{"g":6,"s":5,"x":0,"y":0.05},{"g":6,"s":5,"x":0.08,"y":0.07},{"g":6,"s":5,"x":0.16,"y":0.08},{"g":6,"s":5,"x":0.31,"y":0.09},{"g":6,"s":5,"x":0.63,"y":0.10},{"g":6,"s":5,"x":0.83,"y":0.11},{"g":6,"s":5,"x":1.67,"y":0.16},{"g":6,"s":5,"x":3.33,"y":0.25},{"g":6,"s":5,"x":6.67,"y":0.42},
{"g":6,"s":6,"x":0,"y":0.07},{"g":6,"s":6,"x":0.08,"y":0.09},{"g":6,"s":6,"x":0.16,"y":0.10},{"g":6,"s":6,"x":0.31,"y":0.10},{"g":6,"s":6,"x":0.63,"y":0.11},{"g":6,"s":6,"x":0.83,"y":0.12},{"g":6,"s":6,"x":1.67,"y":0.16},{"g":6,"s":6,"x":3.33,"y":0.24},{"g":6,"s":6,"x":6.67,"y":0.40},
{"g":6,"s":7,"x":0,"y":0.04},{"g":6,"s":7,"x":0.08,"y":0.06},{"g":6,"s":7,"x":0.16,"y":0.07},{"g":6,"s":7,"x":0.31,"y":0.08},{"g":6,"s":7,"x":0.63,"y":0.09},{"g":6,"s":7,"x":0.83,"y":0.10},{"g":6,"s":7,"x":1.67,"y":0.14},{"g":6,"s":7,"x":3.33,"y":0.22},{"g":6,"s":7,"x":6.67,"y":0.38},
{"g":6,"s":8,"x":0,"y":0.06},{"g":6,"s":8,"x":0.08,"y":0.08},{"g":6,"s":8,"x":0.16,"y":0.09},{"g":6,"s":8,"x":0.31,"y":0.09},{"g":6,"s":8,"x":0.63,"y":0.10},{"g":6,"s":8,"x":0.83,"y":0.11},{"g":6,"s":8,"x":1.67,"y":0.14},{"g":6,"s":8,"x":3.33,"y":0.21},{"g":6,"s":8,"x":6.67,"y":0.35},
{"g":6,"s":9,"x":0,"y":0.05},{"g":6,"s":9,"x":0.08,"y":0.07},{"g":6,"s":9,"x":0.16,"y":0.08},{"g":6,"s":9,"x":0.31,"y":0.08},{"g":6,"s":9,"x":0.63,"y":0.09},{"g":6,"s":9,"x":0.83,"y":0.10},{"g":6,"s":9,"x":1.67,"y":0.13},{"g":6,"s":9,"x":3.33,"y":0.20},{"g":6,"s":9,"x":6.67,"y":0.33},
{"g":6,"s":10,"x":0,"y":0.08},{"g":6,"s":10,"x":0.08,"y":0.10},{"g":6,"s":10,"x":0.16,"y":0.10},{"g":6,"s":10,"x":0.31,"y":0.11},{"g":6,"s":10,"x":0.63,"y":0.11},{"g":6,"s":10,"x":0.83,"y":0.12},{"g":6,"s":10,"x":1.67,"y":0.14},{"g":6,"s":10,"x":3.33,"y":0.20},{"g":6,"s":10,"x":6.67,"y":0.30},
{"g":6,"s":11,"x":0,"y":0.04},{"g":6,"s":11,"x":0.08,"y":0.06},{"g":6,"s":11,"x":0.16,"y":0.07},{"g":6,"s":11,"x":0.31,"y":0.07},{"g":6,"s":11,"x":0.63,"y":0.08},{"g":6,"s":11,"x":0.83,"y":0.09},{"g":6,"s":11,"x":1.67,"y":0.12},{"g":6,"s":11,"x":3.33,"y":0.18},{"g":6,"s":11,"x":6.67,"y":0.28},
{"g":6,"s":12,"x":0,"y":0.06},{"g":6,"s":12,"x":0.08,"y":0.08},{"g":6,"s":12,"x":0.16,"y":0.08},{"g":6,"s":12,"x":0.31,"y":0.09},{"g":6,"s":12,"x":0.63,"y":0.09},{"g":6,"s":12,"x":0.83,"y":0.10},{"g":6,"s":12,"x":1.67,"y":0.12},{"g":6,"s":12,"x":3.33,"y":0.17},{"g":6,"s":12,"x":6.67,"y":0.26},
{"g":6,"s":13,"x":0,"y":0.05},{"g":6,"s":13,"x":0.08,"y":0.07},{"g":6,"s":13,"x":0.16,"y":0.07},{"g":6,"s":13,"x":0.31,"y":0.08},{"g":6,"s":13,"x":0.63,"y":0.08},{"g":6,"s":13,"x":0.83,"y":0.09},{"g":6,"s":13,"x":1.67,"y":0.11},{"g":6,"s":13,"x":3.33,"y":0.16},{"g":6,"s":13,"x":6.67,"y":0.24},
{"g":6,"s":14,"x":0,"y":0.07},{"g":6,"s":14,"x":0.08,"y":0.09},{"g":6,"s":14,"x":0.16,"y":0.09},{"g":6,"s":14,"x":0.31,"y":0.09},{"g":6,"s":14,"x":0.63,"y":0.10},{"g":6,"s":14,"x":0.83,"y":0.10},{"g":6,"s":14,"x":1.67,"y":0.12},{"g":6,"s":14,"x":3.33,"y":0.15},{"g":6,"s":14,"x":6.67,"y":0.22},
{"g":6,"s":15,"x":0,"y":0.04},{"g":6,"s":15,"x":0.08,"y":0.05},{"g":6,"s":15,"x":0.16,"y":0.06},{"g":6,"s":15,"x":0.31,"y":0.06},{"g":6,"s":15,"x":0.63,"y":0.07},{"g":6,"s":15,"x":0.83,"y":0.08},{"g":6,"s":15,"x":1.67,"y":0.10},{"g":6,"s":15,"x":3.33,"y":0.14},{"g":6,"s":15,"x":6.67,"y":0.20},
{"g":6,"s":16,"x":0,"y":0.06},{"g":6,"s":16,"x":0.08,"y":0.07},{"g":6,"s":16,"x":0.16,"y":0.07},{"g":6,"s":16,"x":0.31,"y":0.08},{"g":6,"s":16,"x":0.63,"y":0.08},{"g":6,"s":16,"x":0.83,"y":0.08},{"g":6,"s":16,"x":1.67,"y":0.10},{"g":6,"s":16,"x":3.33,"y":0.13},{"g":6,"s":16,"x":6.67,"y":0.18},
{"g":6,"s":17,"x":0,"y":0.05},{"g":6,"s":17,"x":0.08,"y":0.06},{"g":6,"s":17,"x":0.16,"y":0.06},{"g":6,"s":17,"x":0.31,"y":0.07},{"g":6,"s":17,"x":0.63,"y":0.07},{"g":6,"s":17,"x":0.83,"y":0.07},{"g":6,"s":17,"x":1.67,"y":0.09},{"g":6,"s":17,"x":3.33,"y":0.12},{"g":6,"s":17,"x":6.67,"y":0.16},
{"g":6,"s":18,"x":0,"y":0.03},{"g":6,"s":18,"x":0.08,"y":0.04},{"g":6,"s":18,"x":0.16,"y":0.05},{"g":6,"s":18,"x":0.31,"y":0.05},{"g":6,"s":18,"x":0.63,"y":0.06},{"g":6,"s":18,"x":0.83,"y":0.06},{"g":6,"s":18,"x":1.67,"y":0.08},{"g":6,"s":18,"x":3.33,"y":0.10},{"g":6,"s":18,"x":6.67,"y":0.14},
{"g":6,"s":19,"x":0,"y":0.08},{"g":6,"s":19,"x":0.08,"y":0.09},{"g":6,"s":19,"x":0.16,"y":0.09},{"g":6,"s":19,"x":0.31,"y":0.09},{"g":6,"s":19,"x":0.63,"y":0.09},{"g":6,"s":19,"x":0.83,"y":0.10},{"g":6,"s":19,"x":1.67,"y":0.10},{"g":6,"s":19,"x":3.33,"y":0.11},{"g":6,"s":19,"x":6.67,"y":0.12},
{"g":6,"s":20,"x":0,"y":0.04},{"g":6,"s":20,"x":0.08,"y":0.05},{"g":6,"s":20,"x":0.16,"y":0.05},{"g":6,"s":20,"x":0.31,"y":0.05},{"g":6,"s":20,"x":0.63,"y":0.06},{"g":6,"s":20,"x":0.83,"y":0.06},{"g":6,"s":20,"x":1.67,"y":0.07},{"g":6,"s":20,"x":3.33,"y":0.08},{"g":6,"s":20,"x":6.67,"y":0.10},
{"g":6,"s":21,"x":0,"y":0.02},{"g":6,"s":21,"x":0.08,"y":0.03},{"g":6,"s":21,"x":0.16,"y":0.03},{"g":6,"s":21,"x":0.31,"y":0.04},{"g":6,"s":21,"x":0.63,"y":0.04},{"g":6,"s":21,"x":0.83,"y":0.04},{"g":6,"s":21,"x":1.67,"y":0.05},{"g":6,"s":21,"x":3.33,"y":0.06},{"g":6,"s":21,"x":6.67,"y":0.08},
{"g":6,"s":22,"x":0,"y":0.03},{"g":6,"s":22,"x":0.08,"y":0.03},{"g":6,"s":22,"x":0.16,"y":0.04},{"g":6,"s":22,"x":0.31,"y":0.04},{"g":6,"s":22,"x":0.63,"y":0.04},{"g":6,"s":22,"x":0.83,"y":0.04},{"g":6,"s":22,"x":1.67,"y":0.05},{"g":6,"s":22,"x":3.33,"y":0.05},{"g":6,"s":22,"x":6.67,"y":0.06},
{"g":6,"s":23,"x":0,"y":0.01},{"g":6,"s":23,"x":0.08,"y":0.02},{"g":6,"s":23,"x":0.16,"y":0.02},{"g":6,"s":23,"x":0.31,"y":0.02},{"g":6,"s":23,"x":0.63,"y":0.03},{"g":6,"s":23,"x":0.83,"y":0.03},{"g":6,"s":23,"x":1.67,"y":0.03},{"g":6,"s":23,"x":3.33,"y":0.04},{"g":6,"s":23,"x":6.67,"y":0.04},
{"g":6,"s":24,"x":0,"y":0.02},{"g":6,"s":24,"x":0.08,"y":0.02},{"g":6,"s":24,"x":0.16,"y":0.02},{"g":6,"s":24,"x":0.31,"y":0.02},{"g":6,"s":24,"x":0.63,"y":0.02},{"g":6,"s":24,"x":0.83,"y":0.02},{"g":6,"s":24,"x":1.67,"y":0.02},{"g":6,"s":24,"x":3.33,"y":0.03},{"g":6,"s":24,"x":6.67,"y":0.03},
{"g":6,"s":0,"x":0.67,"y":0.68},{"g":6,"s":0,"x":0.35,"y":0.27},{"g":6,"s":0,"x":0.12,"y":0.15}
]},
"columns":2,
"spacing":{"row":67,"column":77},
"bounds":"flush",
"concat":[
{"width":218,"height":194,"title":{"text":"Donor 1","offset":1},"transform":[{"filter":"datum.g == 1"}],
 "encoding":{"x":{"field":"x","type":"quantitative","scale":{"domain":[0,7],"nice":false},"axis":{"values":[0,1,2,3,4,5,6,7],"labels":false,"title":null}},
  "y":{"field":"y","type":"quantitative","scale":{"domain":[0,3.5],"nice":false},"axis":{"values":[0,1,2,3],"format":"d","title":null}}},
 "layer":[
  {"transform":[{"filter":"datum.s > 0"}],"mark":{"type":"line","interpolate":"monotone","color":"#111","strokeWidth":1.3},"encoding":{"detail":{"field":"s"}}},
  {"mark":{"type":"point","shape":"triangle-up","filled":true,"color":"#111","opacity":1,"size":85}}
 ]},
{"width":218,"height":194,"title":{"text":"Donor 2","offset":-2},"transform":[{"filter":"datum.g == 2"}],
 "encoding":{"x":{"field":"x","type":"quantitative","scale":{"domain":[0,7],"nice":false},"axis":{"values":[0,1,2,3,4,5,6,7],"labels":false,"title":null}},
  "y":{"field":"y","type":"quantitative","scale":{"domain":[0,3.5],"nice":false},"axis":{"values":[0,1,2,3],"format":"d","title":null}}},
 "layer":[
  {"transform":[{"filter":"datum.s > 0"}],"mark":{"type":"line","interpolate":"monotone","color":"#111","strokeWidth":1.3},"encoding":{"detail":{"field":"s"}}},
  {"mark":{"type":"point","shape":"triangle-up","filled":true,"color":"#111","opacity":1,"size":85}}
 ]},
{"width":218,"height":194,"title":{"text":"Donor 3","offset":1},"transform":[{"filter":"datum.g == 3"}],
 "encoding":{"x":{"field":"x","type":"quantitative","scale":{"domain":[0,7],"nice":false},"axis":{"values":[0,1,2,3,4,5,6,7],"labels":false,"title":null}},
  "y":{"field":"y","type":"quantitative","scale":{"domain":[0,3.5],"nice":false},"axis":{"values":[0,1,2,3],"format":"d","title":"Antibodies (OD₄₁₅)","titlePadding":21.5}}},
 "layer":[
  {"transform":[{"filter":"datum.s > 0"}],"mark":{"type":"line","interpolate":"monotone","color":"#111","strokeWidth":1.3},"encoding":{"detail":{"field":"s"}}},
  {"mark":{"type":"point","shape":"triangle-up","filled":true,"color":"#111","opacity":1,"size":85}}
 ]},
{"width":218,"height":194,"title":{"text":"Donor 4","offset":-7},"transform":[{"filter":"datum.g == 4"}],
 "encoding":{"x":{"field":"x","type":"quantitative","scale":{"domain":[0,7],"nice":false},"axis":{"values":[0,1,2,3,4,5,6,7],"labels":false,"title":null}},
  "y":{"field":"y","type":"quantitative","scale":{"domain":[0,3.5],"nice":false},"axis":{"values":[0,1,2,3],"format":"d","title":null}}},
 "layer":[
  {"transform":[{"filter":"datum.s > 0"}],"mark":{"type":"line","interpolate":"monotone","color":"#111","strokeWidth":1.3},"encoding":{"detail":{"field":"s"}}},
  {"mark":{"type":"point","shape":"triangle-up","filled":true,"color":"#111","opacity":1,"size":85}}
 ]},
{"width":218,"height":194,"title":{"text":"Donor 5","offset":-4.5},"transform":[{"filter":"datum.g == 5"}],
 "encoding":{"x":{"field":"x","type":"quantitative","scale":{"domain":[0,7],"nice":false},"axis":{"values":[0,1,2,3,4,5,6,7],"labelExpr":"datum.value == 0 ? '0' : format(datum.value, '.1f') + '×10⁻⁸'","labelOverlap":false,"labelAngle":-45,"labelAlign":"right","labelBaseline":"top","labelPadding":3,"title":"Molarity","titleX":241,"titleY":83,"titleAlign":"center","titleBaseline":"middle"}},
  "y":{"field":"y","type":"quantitative","scale":{"domain":[0,3.5],"nice":false},"axis":{"values":[0,1,2,3],"format":"d","title":null}}},
 "layer":[
  {"transform":[{"filter":"datum.s > 0"}],"mark":{"type":"line","interpolate":"monotone","color":"#111","strokeWidth":1.3},"encoding":{"detail":{"field":"s"}}},
  {"mark":{"type":"point","shape":"triangle-up","filled":true,"color":"#111","opacity":1,"size":85}}
 ]},
{"width":218,"height":194,"title":{"text":["0/86 Naive B-cell","antibodies"],"lineHeight":21,"offset":-47.5},"transform":[{"filter":"datum.g == 6"}],
 "encoding":{"x":{"field":"x","type":"quantitative","scale":{"domain":[0,7],"nice":false},"axis":{"values":[0,1,2,3,4,5,6,7],"labelExpr":"datum.value == 0 ? '0' : format(datum.value, '.1f') + '×10⁻⁸'","labelOverlap":false,"labelAngle":-45,"labelAlign":"right","labelBaseline":"top","labelPadding":3,"title":null}},
  "y":{"field":"y","type":"quantitative","scale":{"domain":[0,3.5],"nice":false},"axis":{"values":[0,1,2,3],"format":"d","title":"b","titleAngle":0,"titleX":-40,"titleY":-14,"titleAlign":"center","titleBaseline":"middle","titleFontWeight":"bold","titleFontSize":20}}},
 "layer":[
  {"transform":[{"filter":"datum.s > 0"}],"mark":{"type":"line","interpolate":"monotone","color":"#111","strokeWidth":1.3},"encoding":{"detail":{"field":"s"}}},
  {"mark":{"type":"point","shape":"triangle-up","filled":true,"color":"#111","opacity":1,"size":85}}
 ]}
],
"config":{
 "view":{"stroke":null},
 "font":"Liberation Sans",
 "axis":{"grid":false,"labelOverlap":false,"domainColor":"#111","tickColor":"#111","labelColor":"#111","titleColor":"#111","domainWidth":1.2,"tickWidth":1.2,"tickSize":5,"labelFontSize":17,"labelFont":"Liberation Sans","titleFont":"Liberation Sans","titleFontSize":18,"titleFontWeight":"normal","labelPadding":2},
 "title":{"font":"Liberation Sans","fontSize":18,"fontWeight":"normal","color":"#111","baseline":"middle","anchor":"middle"}
}
}
